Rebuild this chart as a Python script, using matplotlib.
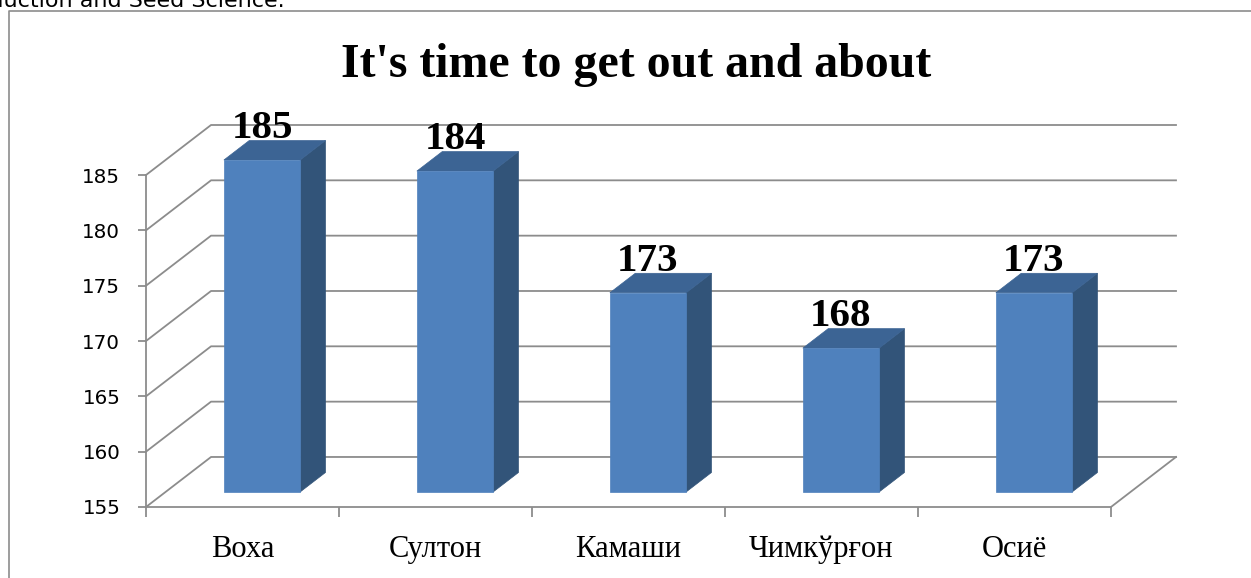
import matplotlib
matplotlib.use('agg')
from matplotlib import pyplot as plt
from matplotlib.lines import Line2D
from matplotlib.patches import Polygon

categories = ['Воха', 'Султон', 'Камаши', 'Чимкўрғон', 'Осиё']
values = [185, 184, 173, 168, 173]
y_ticks = [155, 160, 165, 170, 175, 180, 185]
title = "It's time to get out and about"
caption = 'Production and Seed Science.'

FRONT_COLOR = '#4F81BD'
SIDE_COLOR = '#325479'
TOP_COLOR = '#3C6494'
GRID_COLOR = '#8C8C8C'
SERIF = ['Liberation Serif', 'DejaVu Serif']

# fake 3d: depth offset of the back wall, in data units
DX, DY = 0.337, 4.52
F1, F2 = 0.30, 0.69     # bar front / back depth fraction
BAR_W = 0.395
Y0, Y1 = y_ticks[0], y_ticks[-1]
n = len(categories)

W, H = 1251, 578
fig = plt.figure(figsize=(W / 100, H / 100), dpi=100)
ax = fig.add_axes([146 / W, (H - 507) / H, 1030 / W, 382 / H])
ax.set_xlim(-0.5, n - 0.5 + DX)
ax.set_ylim(Y0, Y1 + DY)
ax.patch.set_visible(False)

for side in ('top', 'right'):
    ax.spines[side].set_visible(False)
for side in ('left', 'bottom'):
    ax.spines[side].set_color(GRID_COLOR)
    ax.spines[side].set_linewidth(1.3)
ax.spines['left'].set_bounds(Y0, Y1)
ax.spines['bottom'].set_bounds(-0.5, n - 0.5)

# side wall diagonals + back wall gridlines
for v in y_ticks:
    ax.plot([-0.5, -0.5 + DX, n - 0.5 + DX], [v, v + DY, v + DY],
            color=GRID_COLOR, lw=1.3, zorder=1, clip_on=False)
# floor right edge
ax.plot([n - 0.5, n - 0.5 + DX], [Y0, Y0 + DY], color=GRID_COLOR, lw=1.3, zorder=1, clip_on=False)

ax.set_yticks(y_ticks)
ax.tick_params(axis='y', length=6, width=1.3, color=GRID_COLOR, pad=12.5, labelsize=14.3)

ax.set_xticks([i - 0.5 for i in range(n + 1)], labels=[])
ax.set_xticks(range(n), labels=categories, minor=True)
ax.tick_params(axis='x', which='major', length=7, width=1.3, color=GRID_COLOR)
ax.tick_params(axis='x', which='minor', length=0, pad=20)
for lbl in ax.get_xticklabels(minor=True):
    lbl.set_fontfamily(SERIF)
    lbl.set_fontsize(22)

for i, v in enumerate(values):
    xl, xr = i - BAR_W / 2, i + BAR_W / 2
    front = [(xl + F1 * DX, Y0 + F1 * DY), (xr + F1 * DX, Y0 + F1 * DY),
             (xr + F1 * DX, v + F1 * DY), (xl + F1 * DX, v + F1 * DY)]
    side = [(xr + F1 * DX, Y0 + F1 * DY), (xr + F2 * DX, Y0 + F2 * DY),
            (xr + F2 * DX, v + F2 * DY), (xr + F1 * DX, v + F1 * DY)]
    top = [(xl + F1 * DX, v + F1 * DY), (xr + F1 * DX, v + F1 * DY),
           (xr + F2 * DX, v + F2 * DY), (xl + F2 * DX, v + F2 * DY)]
    for pts, c in ((side, SIDE_COLOR), (top, TOP_COLOR), (front, FRONT_COLOR)):
        ax.add_patch(Polygon(pts, closed=True, facecolor=c, edgecolor=c, lw=0.5, zorder=3, clip_on=False))
    ax.text(i + F1 * DX, v + F2 * DY + 0.2, str(v), ha='center', va='baseline',
            fontsize=29.5, fontweight='bold', family=SERIF, zorder=4)

fig.text(636 / W, 1 - 77 / H, title, ha='center', va='baseline',
         fontsize=34.5, fontweight='bold', family=SERIF)
# caption from the page above, cut off by the crop like in the source
fig.text(285 / W, 1 - 7 / H, caption, ha='right', va='baseline', fontsize=16)

# chart border (left + top)
bx, by = 8.5 / W, 1 - 10.5 / H
fig.add_artist(Line2D([bx, bx, 1], [0, by, by], color=GRID_COLOR, lw=1.2))

fig.savefig('out.png', dpi=100)
plt.close()
